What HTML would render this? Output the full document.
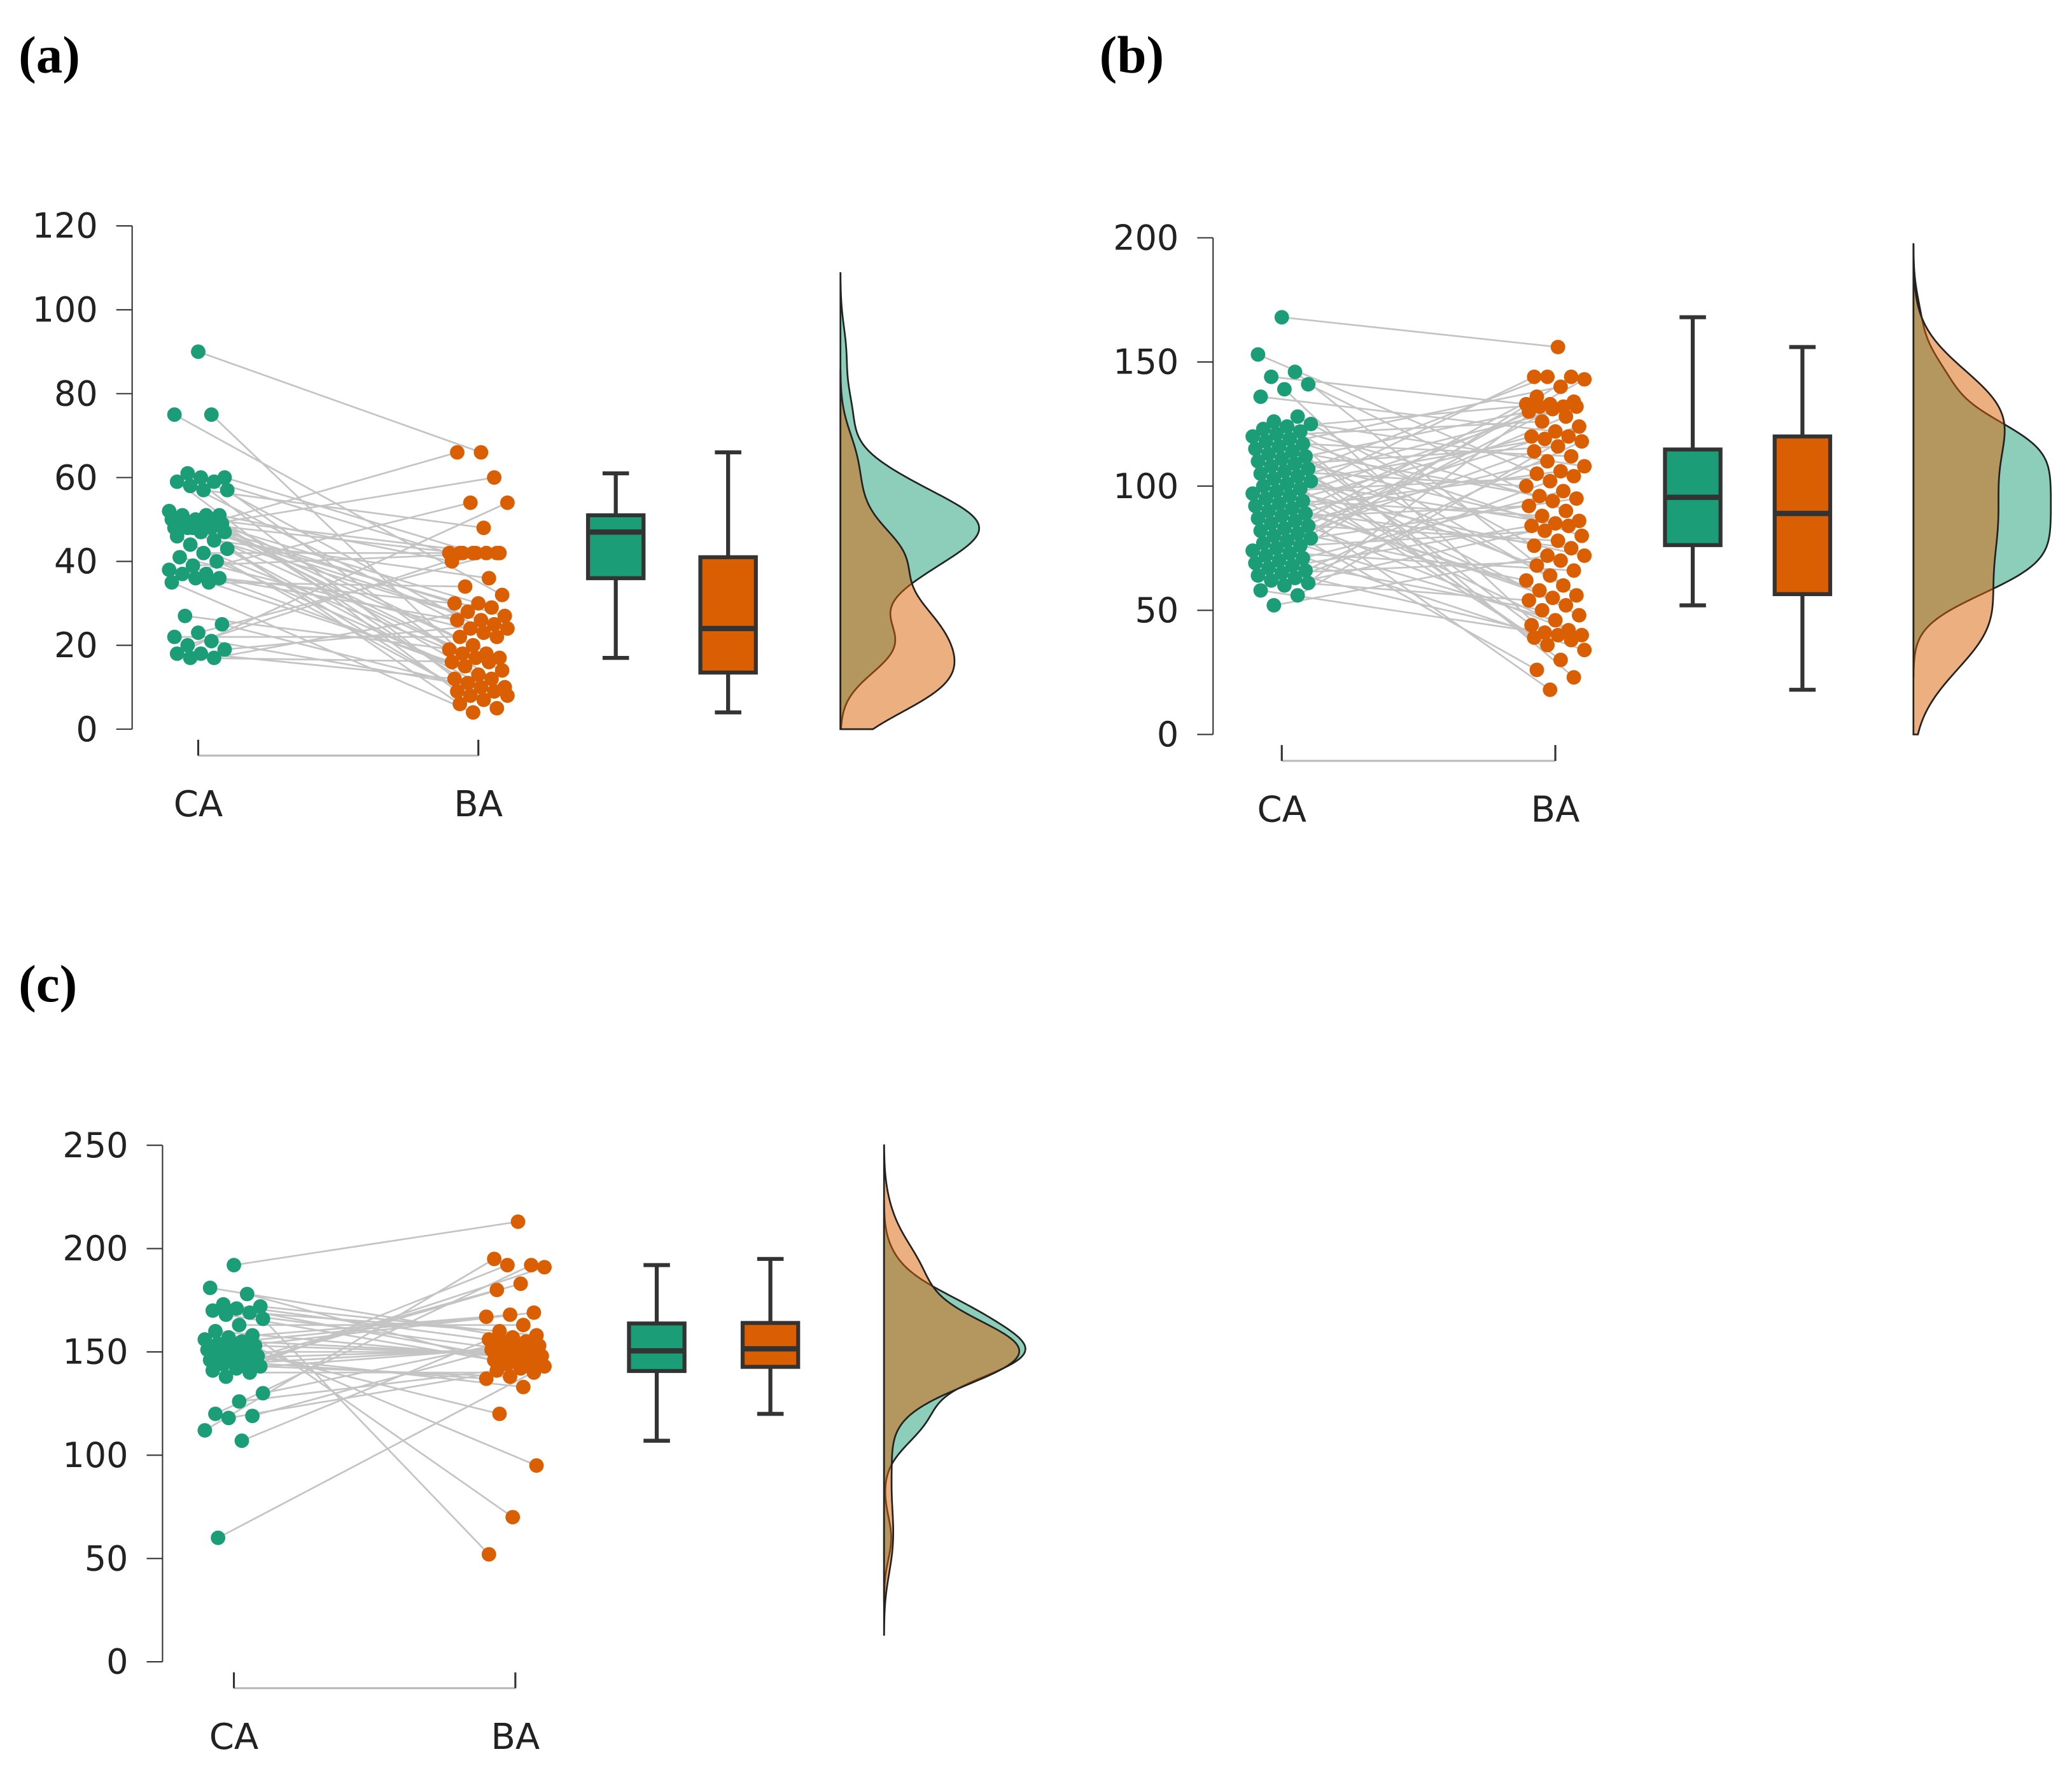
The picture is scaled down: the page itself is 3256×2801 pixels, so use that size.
<!DOCTYPE html>
<html><head><meta charset="utf-8"><style>
html,body{margin:0;padding:0;background:#fff;}
svg{display:block;}
text{font-family:"DejaVu Sans","Liberation Sans",sans-serif;}
</style></head><body>
<svg id="fig" width="3256" height="2801" viewBox="0 0 1568 1349" preserveAspectRatio="none" xmlns="http://www.w3.org/2000/svg">
<rect width="1568" height="1349" fill="#fff"/>
<text x="14" y="55" font-weight="bold" font-size="40" style="font-family:'Liberation Serif',serif">(a)</text>
<text x="832" y="55" font-weight="bold" font-size="40" style="font-family:'Liberation Serif',serif">(b)</text>
<text x="14" y="758" font-weight="bold" font-size="40" style="font-family:'Liberation Serif',serif">(c)</text>
</svg>
<script>
const caA=[90,75,75,61,60,60,59,59,58,57,57,49,49,48,52,51,51,51,50,50,50,49,49,49,48,48,48,47,47,46,45,44,43,42,41,40,39,38,37,37,36,36,35,35,27,25,23,22,21,20,19,18,18,17,17];
const baA=[66,66,60,54,54,48,42,42,42,42,42,42,42,42,40,36,34,32,30,30,29,28,27,26,26,25,24,24,23,22,22,20,19,18,18,17,17,16,16,15,14,13,12,12,11,10,10,9,9,8,8,7,6,5,4];
const ticksA=[0,20,40,60,80,100,120];
const caB=[168,153,146,144,141,139,136,128,126,125,124,123,122,121,120,119,118,117,116,115,114,113,112,111,110,109,108,107,106,105,104,103,102,101,100,99,98,97,96,95,94,93,92,91,90,89,88,87,86,85,84,83,82,81,80,79,78,77,76,75,74,73,72,71,70,69,68,67,66,65,64,63,62,61,60,58,56,52];
const baB=[156,144,144,144,143,140,136,134,133,133,132,132,132,131,130,128,126,124,122,120,120,119,118,116,114,112,110,108,106,105,104,102,100,98,96,95,94,92,90,88,86,85,84,84,82,80,78,76,75,72,72,70,68,66,64,62,60,58,56,55,54,52,50,48,46,44,42,41,40,40,39,38,36,34,30,26,23,18];
const ticksB=[0,50,100,150,200];
const caC=[192,181,178,173,172,171,170,169,168,166,163,160,158,157,156,155,154,153,152,151,150,149,148,147,146,145,144,143,142,141,140,138,130,126,120,119,118,112,107,60];
const baC=[213,195,192,192,191,183,180,169,168,167,163,160,158,157,156,155,154,153,152,151,150,149,148,147,146,145,144,143,142,141,140,138,137,133,120,95,70,52,150,155];
const ticksC=[0,50,100,150,200,250];
const groups=["CA","BA"];

const NS="http://www.w3.org/2000/svg";
const svg=document.getElementById('fig');
function mk(tag,attrs,parent){const e=document.createElementNS(NS,tag);for(const k in attrs)e.setAttribute(k,attrs[k]);(parent||svg).appendChild(e);return e;}
function quant(s,p){const i=(s.length-1)*p,lo=Math.floor(i),hi=Math.ceil(i);return s[lo]+(s[hi]-s[lo])*(i-lo);}
function kde(d,bw,y){let s=0;for(const v of d){const z=(y-v)/bw;s+=Math.exp(-0.5*z*z);}return s/(d.length*bw);}
function bwOf(d){const n=d.length,m=d.reduce((a,b)=>a+b,0)/n;const sd=Math.sqrt(d.reduce((a,b)=>a+(b-m)*(b-m),0)/(n-1));return 0.9*sd*Math.pow(n,-0.2);}
const G="#1b9e77",O="#d95f02";

function panel(id,cfg,ca,ba,ticks){
  const g=mk('g',{});
  
  
  const ymax=ticks[ticks.length-1];
  const Y=v=>cfg.y0-(v/ymax)*(cfg.y0-cfg.yTop);
  const ax=mk('line',{x1:cfg.ax,x2:cfg.ax,y1:Y(0),y2:Y(ymax),stroke:'#333','stroke-width':1},g);
  
  ticks.forEach(t=>{
    mk('line',{x1:cfg.ax-12,x2:cfg.ax,y1:Y(t),y2:Y(t),stroke:'#333','stroke-width':1},g);
    const tx=mk('text',{x:cfg.ax-26,y:Y(t)+9,'text-anchor':'end','font-size':26,fill:'#222'},g);
    tx.textContent=t;
    
  });
  const xa=mk('line',{x1:cfg.xCA,x2:cfg.xBA,y1:cfg.xAxisY,y2:cfg.xAxisY,stroke:'#bbb','stroke-width':1.5},g);
  
  [cfg.xCA,cfg.xBA].forEach((x,i)=>{
    mk('line',{x1:x,x2:x,y1:cfg.xAxisY,y2:cfg.xAxisY-12,stroke:'#333','stroke-width':1.5},g);
    const tx=mk('text',{x:x,y:cfg.xAxisY+46,'text-anchor':'middle','font-size':27,fill:'#222'},g);
    tx.textContent=groups[i];
    
  });
  const n=Math.min(ca.length,ba.length);
  const jit=i=>(((i*37+11)%23)/22-0.5)*2*cfg.jw;
  const perm=i=>(i*cfg.step)%n;
  const pts=[];
  for(let i=0;i<n;i++){
    const j=perm(i);
    const x1=cfg.xCA+jit(i),y1=Y(ca[i]),x2=cfg.xBA+jit(j+5),y2=Y(ba[j]);
    const l=mk('line',{x1,y1,x2,y2,stroke:'#c4c4c4','stroke-width':1.3},g);
    
    pts.push([x1,y1,G],[x2,y2,O]);
  }
  pts.forEach(p=>{const c=mk('circle',{cx:p[0],cy:p[1],r:5.5,fill:p[2]},g);
    });
  [[ca,cfg.bCA,G,'ca-box'],[ba,cfg.bBA,O,'ba-box']].forEach(([d,cx,col,nm])=>{
    const s=[...d].sort((a,b)=>a-b);
    const q1=quant(s,.25),md=quant(s,.5),q3=quant(s,.75),iq=q3-q1;
    const lo=Math.min(...s.filter(v=>v>=q1-1.5*iq)),hi=Math.max(...s.filter(v=>v<=q3+1.5*iq));
    const bg=mk('g',{},g);
    mk('line',{x1:cx,x2:cx,y1:Y(hi),y2:Y(lo),stroke:'#333','stroke-width':3},bg);
    mk('line',{x1:cx-10,x2:cx+10,y1:Y(hi),y2:Y(hi),stroke:'#333','stroke-width':3},bg);
    mk('line',{x1:cx-10,x2:cx+10,y1:Y(lo),y2:Y(lo),stroke:'#333','stroke-width':3},bg);
    mk('rect',{x:cx-21,y:Y(q3),width:42,height:Y(q1)-Y(q3),fill:col,stroke:'#333','stroke-width':3},bg);
    mk('line',{x1:cx-21,x2:cx+21,y1:Y(md),y2:Y(md),stroke:'#333','stroke-width':4},bg);
  });
  const sets=[[ca,G,'ca-density'],[ba,O,'ba-density']];
  const dens=sets.map(([d])=>{const bw=bwOf(d);const lo=Math.max(0,Math.min(...d)-3*bw),hi=Math.min(ymax,Math.max(...d)+3*bw);
    const arr=[];for(let k=0;k<=200;k++){const v=lo+(hi-lo)*k/200;arr.push([v,kde(d,bw,v)]);}return arr;});
  const mx=Math.max(...dens.flat().map(p=>p[1]));
  dens.forEach((arr,i)=>{
    let dstr=`M${cfg.dx},${Y(arr[0][0])}`;
    arr.forEach(p=>{dstr+=` L${cfg.dx+p[1]/mx*cfg.dw},${Y(p[0])}`;});
    dstr+=` L${cfg.dx},${Y(arr[arr.length-1][0])} Z`;
    const p=mk('path',{d:dstr,fill:sets[i][1],'fill-opacity':0.5,stroke:'#222','stroke-width':1.3},g);
    
  });
}
panel('panel-a',{ax:100,y0:552,yTop:171,xCA:150,xBA:362,xAxisY:572,jw:22,bCA:466,bBA:551,dx:636,dw:105,step:17},caA,baA,ticksA);
panel('panel-b',{ax:918,y0:556,yTop:180,xCA:970,xBA:1177,xAxisY:576,jw:22,bCA:1281,bBA:1364,dx:1448,dw:104,step:29},caB,baB,ticksB);
panel('panel-c',{ax:123,y0:1258,yTop:867,xCA:177,xBA:390,xAxisY:1278,jw:22,bCA:497,bBA:583,dx:669,dw:107,step:13},caC,baC,ticksC);
</script>
</body></html>
